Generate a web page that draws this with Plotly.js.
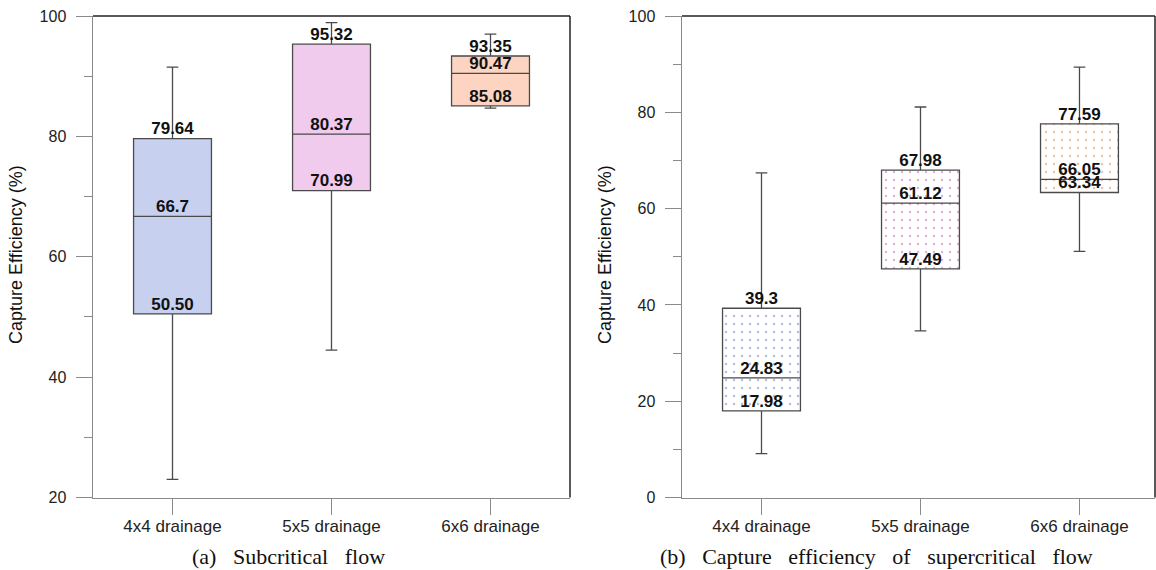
<!DOCTYPE html>
<html>
<head>
<meta charset="utf-8">
<script src="https://cdn.plot.ly/plotly-3.0.1.min.js"></script>
<style>html,body{margin:0;padding:0;background:#fff;}#chart{width:1156px;height:570px;}</style>
</head>
<body>
<div id="chart"></div>
<script>
// ---- data ----
const categories = ["4x4 drainage", "5x5 drainage", "6x6 drainage"];

// (a) Subcritical flow
const aLower  = [23.0, 44.5, 84.7];
const aQ1     = [50.50, 70.99, 85.08];
const aMedian = [66.7, 80.37, 90.47];
const aQ3     = [79.64, 95.32, 93.35];
const aUpper  = [91.5, 98.9, 97.0];
const aQ1Labels  = ["50.50", "70.99", "85.08"];
const aMedLabels = ["66.7", "80.37", "90.47"];
const aQ3Labels  = ["79.64", "95.32", "93.35"];

// (b) Supercritical flow
const bLower  = [9.1, 34.6, 51.1];
const bQ1     = [17.98, 47.49, 63.34];
const bMedian = [24.83, 61.12, 66.05];
const bQ3     = [39.3, 67.98, 77.59];
const bUpper  = [67.4, 81.1, 89.4];
const bQ1Labels  = ["17.98", "47.49", "63.34"];
const bMedLabels = ["24.83", "61.12", "66.05"];
const bQ3Labels  = ["39.3", "67.98", "77.59"];

const yTitle = "Capture Efficiency (%)";
const sp = "\u00a0\u00a0 ";
const captionA = ["(a)", "Subcritical", "flow"].join(sp);
const captionB = ["(b)", "Capture", "efficiency", "of", "supercritical", "flow"].join(sp);

// ---- styling ----
const W = 1156, H = 570;
const boxW = 0.49;
const sansFont = "Arial, 'Liberation Sans', sans-serif";
const serifFont = "'Times New Roman', 'Liberation Serif', serif";

const aFill = ["#c8d0f0", "#f1cbee", "#fcd4c1"];
const bFg = ["#6f82d0", "#cc66c4", "#f2854f"];

function boxTraces(xa, ya, lower, q1, med, q3, upper, l1, lm, l3, fillMarker, medColor) {
  const span = q3.map((v, i) => v - q1[i]);
  const xs = categories.concat(categories, categories);
  return [
    {
      type: "bar", x: categories, y: span, base: q1, width: boxW,
      xaxis: xa, yaxis: ya, hoverinfo: "skip", showlegend: false,
      marker: fillMarker
    },
    {
      type: "box", x: categories, q1: q1, median: med, q3: q3,
      lowerfence: lower, upperfence: upper, width: boxW, whiskerwidth: 0.15,
      xaxis: xa, yaxis: ya, boxpoints: false, showlegend: false, hoverinfo: "skip",
      fillcolor: "rgba(0,0,0,0)", line: {color: "#4a4a4a", width: 1.3}
    },
    {
      type: "scatter", mode: "text", x: xs, y: q1.concat(med, q3),
      text: l1.concat(lm, l3), textposition: "top center",
      xaxis: xa, yaxis: ya, showlegend: false, hoverinfo: "skip", cliponaxis: false,
      textfont: {family: sansFont, size: 17, color: "#111", weight: "bold"}
    }
  ];
}

const data = [].concat(
  boxTraces("x", "y", aLower, aQ1, aMedian, aQ3, aUpper, aQ1Labels, aMedLabels, aQ3Labels,
    {color: aFill, line: {width: 0}}),
  boxTraces("x2", "y2", bLower, bQ1, bMedian, bQ3, bUpper, bQ1Labels, bMedLabels, bQ3Labels,
    {color: "#ffffff", line: {width: 0},
     pattern: {shape: ".", fillmode: "overlay", fgcolor: bFg, fgopacity: 0.55, size: 8, solidity: 0.07}})
);

const yDom = [1 - 497.5 / H, 1 - 16 / H];
function xAxis(dom, rng) {
  return {
    domain: dom, range: rng, type: "category", showgrid: false, zeroline: false,
    showline: true, linecolor: "#8a8a8a", linewidth: 1.5,
    ticks: "outside", ticklen: 16, tickcolor: "#8a8a8a", tickwidth: 1,
    ticklabelstandoff: -3,
    tickfont: {family: sansFont, size: 17, color: "#222"}, fixedrange: true
  };
}
function yAxis(rng, anchor) {
  return {
    domain: yDom, range: rng, anchor: anchor, dtick: 20, showgrid: false, zeroline: false,
    showline: true, linecolor: "#8a8a8a", linewidth: 1.5,
    ticks: "outside", ticklen: 16, tickcolor: "#8a8a8a", tickwidth: 1,
    ticklabelstandoff: 6,
    minor: {dtick: 10, ticks: "outside", ticklen: 8, tickcolor: "#8a8a8a", tickwidth: 1, showgrid: false},
    tickfont: {family: sansFont, size: 16, color: "#222"}, fixedrange: true
  };
}

const xDomA = [93 / W, 570 / W];
const xDomB = [682 / W, 1155 / W];

const layout = {
  width: W, height: H,
  margin: {l: 0, r: 0, t: 0, b: 0},
  paper_bgcolor: "#fff", plot_bgcolor: "#fff",
  showlegend: false, barmode: "overlay", boxmode: "overlay",
  xaxis: Object.assign(xAxis(xDomA, [-0.5, 2.5]), {anchor: "y"}),
  yaxis: yAxis([20, 100], "x"),
  xaxis2: Object.assign(xAxis(xDomB, [-0.5, 2.475]), {anchor: "y2"}),
  yaxis2: yAxis([0, 100], "x2"),
  shapes: [
    {type: "line", xref: "x domain", yref: "y domain", x0: 0, x1: 1, y0: 1, y1: 1, line: {color: "#222", width: 1.5}},
    {type: "line", xref: "x domain", yref: "y domain", x0: 1, x1: 1, y0: 0, y1: 1, line: {color: "#222", width: 1.5}},
    {type: "line", xref: "x2 domain", yref: "y2 domain", x0: 0, x1: 1, y0: 1, y1: 1, line: {color: "#222", width: 1.5}},
    {type: "line", xref: "x2 domain", yref: "y2 domain", x0: 1, x1: 1, y0: 0, y1: 1, line: {color: "#222", width: 1.5}}
  ],
  annotations: [
    {xref: "paper", yref: "paper", x: 16 / W, y: 1 - 255 / H, text: yTitle, textangle: -90, showarrow: false,
     xanchor: "center", yanchor: "middle", font: {family: sansFont, size: 18, color: "#111"}},
    {xref: "paper", yref: "paper", x: 605 / W, y: 1 - 255 / H, text: yTitle, textangle: -90, showarrow: false,
     xanchor: "center", yanchor: "middle", font: {family: sansFont, size: 18, color: "#111"}},
    {xref: "paper", yref: "paper", x: 288 / W, y: 1 - 556 / H, text: captionA, showarrow: false,
     xanchor: "center", yanchor: "middle", font: {family: serifFont, size: 22, color: "#111"}},
    {xref: "paper", yref: "paper", x: 876 / W, y: 1 - 556 / H, text: captionB, showarrow: false,
     xanchor: "center", yanchor: "middle", font: {family: serifFont, size: 22, color: "#111"}}
  ]
};

Plotly.newPlot("chart", data, layout, {displayModeBar: false, staticPlot: true});
</script>
</body>
</html>
